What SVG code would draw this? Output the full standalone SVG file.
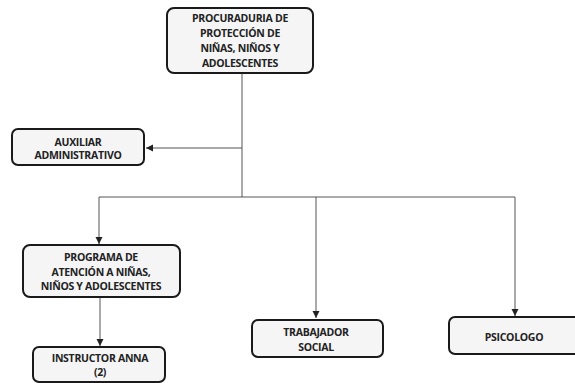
<svg xmlns="http://www.w3.org/2000/svg" width="575" height="383" viewBox="0 0 575 383">
<defs>
<marker id="arr" markerWidth="8" markerHeight="8" refX="7" refY="4" orient="auto" markerUnits="userSpaceOnUse">
<path d="M0,0.5 L7,4 L0,7.5 Z" fill="#222"/>
</marker>
<style>
.box{fill:#f5f5f5;stroke:#1a1a1a;stroke-width:2}
.t{font-family:"Open Sans","Liberation Sans",sans-serif;font-weight:bold;font-size:10.5px;letter-spacing:-0.3px;fill:#222;text-anchor:middle}
.c{fill:none;stroke:#555;stroke-width:1}
</style>
</defs>
<rect width="575" height="383" fill="#ffffff"/>
<g id="connectors">
<path class="c" d="M242,73 V197"/>
<path class="c" d="M242,148 H146" marker-end="url(#arr)"/>
<path class="c" d="M99,197 H515"/>
<path class="c" d="M99,197 V244" marker-end="url(#arr)"/>
<path class="c" d="M316,197 V318" marker-end="url(#arr)"/>
<path class="c" d="M515,197 V316" marker-end="url(#arr)"/>
<path class="c" d="M100,298 V346" marker-end="url(#arr)"/>
</g>
<g id="procuraduria">
<rect class="box" x="167" y="8" width="146" height="65" rx="7"/>
<text class="t" x="240" y="22">PROCURADURIA DE</text>
<text class="t" x="240" y="37">PROTECCIÓN DE</text>
<text class="t" x="240" y="52">NIÑAS, NIÑOS Y</text>
<text class="t" x="240" y="67">ADOLESCENTES</text>
</g>
<g id="auxiliar">
<rect class="box" x="12" y="129" width="132" height="36" rx="6"/>
<text class="t" x="78" y="146">AUXILIAR</text>
<text class="t" x="78" y="159">ADMINISTRATIVO</text>
</g>
<g id="programa">
<rect class="box" x="23" y="245" width="157" height="52" rx="7"/>
<text class="t" x="101" y="261">PROGRAMA DE</text>
<text class="t" x="101" y="276">ATENCIÓN A NIÑAS,</text>
<text class="t" x="101" y="290">NIÑOS Y ADOLESCENTES</text>
</g>
<g id="instructor">
<rect class="box" x="33" y="347" width="132" height="35" rx="6"/>
<text class="t" x="100" y="362">INSTRUCTOR ANNA</text>
<text class="t" x="100" y="376">(2)</text>
</g>
<g id="trabajador">
<rect class="box" x="252" y="320" width="131" height="37" rx="6"/>
<text class="t" x="316" y="336">TRABAJADOR</text>
<text class="t" x="316" y="351">SOCIAL</text>
</g>
<g id="psicologo">
<rect class="box" x="449" y="317" width="140" height="37" rx="6"/>
<text class="t" x="514" y="341">PSICOLOGO</text>
</g>
</svg>
